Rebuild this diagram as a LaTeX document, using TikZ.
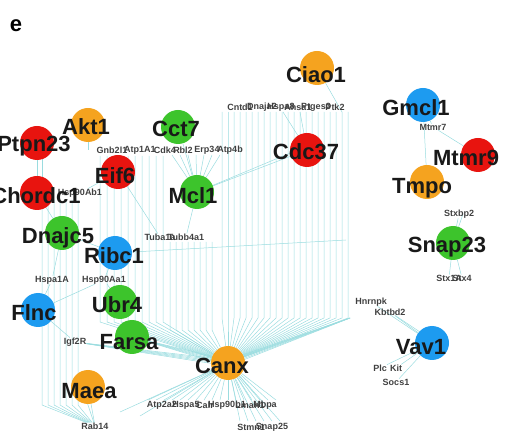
\documentclass[tikz,border=0pt]{standalone}
\usepackage{fontspec}
\setmainfont{Liberation Sans}
\usetikzlibrary{backgrounds}
\definecolor{cO}{HTML}{F5A31F}
\definecolor{cR}{HTML}{E8140F}
\definecolor{cG}{HTML}{3DC42C}
\definecolor{cB}{HTML}{1D9BF0}
\definecolor{edgec}{HTML}{9ADCDF}
\tikzset{
 gene/.style={circle,fill=#1,minimum size=34pt,inner sep=0pt},
 big/.style={font=\fontsize{22}{22}\selectfont\bfseries,text=black!90,inner sep=0pt},
 small/.style={font=\fontsize{9}{9}\selectfont\bfseries,text=black!75,inner sep=0pt},
 edge/.style={draw=edgec,line width=0.5pt},
}
\begin{document}
\begin{tikzpicture}[x=1pt,y=-1pt]
\useasboundingbox (0,0) rectangle (514,435);
\node[font=\fontsize{22}{22}\selectfont\bfseries] (lbl) at (16,26) {e};
% genes
\node[gene=cO] (ciao1) at (317,68) {};
\node[gene=cR] (cdc37) at (307,150) {};
\node[gene=cG] (cct7) at (178,127) {};
\node[gene=cO] (akt1) at (88,125) {};
\node[gene=cR] (ptpn23) at (37,143) {};
\node[gene=cR] (eif6) at (118,172) {};
\node[gene=cR] (chordc1) at (37,193) {};
\node[gene=cG] (mcl1) at (197,192) {};
\node[gene=cG] (dnajc5) at (62,233) {};
\node[gene=cB] (ribc1) at (115,253) {};
\node[gene=cB] (flnc) at (38,310) {};
\node[gene=cG] (ubr4) at (120,302) {};
\node[gene=cG] (farsa) at (132,337) {};
\node[gene=cO] (maea) at (88,387) {};
\node[gene=cO] (canx) at (228,363) {};
\node[gene=cB] (gmcl1) at (423,105) {};
\node[gene=cR] (mtmr9) at (478,155) {};
\node[gene=cO] (tmpo) at (427,182) {};
\node[gene=cG] (snap23) at (453,243) {};
\node[gene=cB] (vav1) at (432,343) {};
% small labels
\node[small] (cnta) at (240,107) {Cntd1};
\node[small] (cntb) at (262,107) {Dnaja2};
\node[small] (cntc) at (281,107) {Hspa8};
\node[small] (cntd) at (298,107) {Ahsa1};
\node[small] (cnte) at (316,107) {Ptges3};
\node[small] (cntf) at (335,107) {Ptk2};
\node[small] (gnba) at (112,150) {Gnb2l1};
\node[small] (gnbb) at (140,150) {Atp1A1};
\node[small] (gnbc) at (165,150) {Cdk4};
\node[small] (gnbd) at (183,150) {Rbl2};
\node[small] (gnbe) at (207,150) {Erp34};
\node[small] (gnbf) at (230,150) {Atp4b};
\node[small] (hspc) at (80,193) {Hsp90Ab1};
\node[small] (tuba) at (160,237) {Tuba1a};
\node[small] (tubb) at (186,237) {Tubb4a1};
\node[small] (hspa) at (52,280) {Hspa1A};
\node[small] (hsp90) at (104,280) {Hsp90Aa1};
\node[small] (igf2r) at (75,342) {Igf2R};
\node[small] (rab14) at (95,426) {Rab14};
\node[small] (bota) at (162,405) {Atp2a2};
\node[small] (botb) at (186,405) {Hspa5};
\node[small] (botc) at (205,405) {Calr};
\node[small] (botd) at (227,405) {Hsp90b1};
\node[small] (bote) at (250,405) {Lman1};
\node[small] (botf) at (265,405) {Mbpa};
\node[small] (stmn) at (251,427) {Stmn1};
\node[small] (snap25) at (272,427) {Snap25};
\node[small] (mtmr7) at (433,127) {Mtmr7};
\node[small] (stxbp2) at (459,214) {Stxbp2};
\node[small] (stxa) at (449,278) {Stx1A};
\node[small] (stxb) at (462,278) {Stx4};
\node[small] (hnrnpk) at (371,302) {Hnrnpk};
\node[small] (kbtbd2) at (390,312) {Kbtbd2};
\node[small] (plc) at (380,368) {Plc};
\node[small] (kit) at (396,368) {Kit};
\node[small] (socs1) at (396,382) {Socs1};
% big labels
\node[big] (ciao1l) at (316,75) {Ciao1};
\node[big] (cdc37l) at (306,152) {Cdc37};
\node[big] (cct7l) at (176,129) {Cct7};
\node[big] (akt1l) at (86,127) {Akt1};
\node[big] (ptpn23l) at (34,146) {Ptpn23};
\node[big] (eif6l) at (115,176) {Eif6};
\node[big] (chordc1l) at (36,196) {Chordc1};
\node[big] (mcl1l) at (193,196) {Mcl1};
\node[big] (dnajc5l) at (58,238) {Dnajc5};
\node[big] (ribc1l) at (114,256) {Ribc1};
\node[big] (flncl) at (34,313) {Flnc};
\node[big] (ubr4l) at (117,305) {Ubr4};
\node[big] (farsal) at (129,342) {Farsa};
\node[big] (maeal) at (89,391) {Maea};
\node[big] (canxl) at (222,366) {Canx};
\node[big] (gmcl1l) at (416,108) {Gmcl1};
\node[big] (mtmr9l) at (466,158) {Mtmr9};
\node[big] (tmpol) at (422,188) {Tmpo};
\node[big] (snap23l) at (447,247) {Snap23};
\node[big] (vav1l) at (421,347) {Vav1};
% edges
\begin{scope}[on background layer]
\foreach \x in {222,228,...,348} \draw[edge] (\x,112) -- (\x,318) -- (canx);
\draw[edge] (ciao1) -- (342,112);
\draw[edge] (cdc37) -- (283,112);
\draw[edge] (cdc37) -- (300,112);
\draw[edge] (mcl1) -- (cdc37);
\draw[edge] (mcl1) -- ([yshift=4pt]cdc37.center);
\draw[edge] (ribc1) -- (346,240);
\foreach \x in {100,107,...,163} \draw[edge] (\x,156) -- (\x,322) -- (canx);
\foreach \x in {170,176,...,214} \draw[edge] (\x,242) -- (\x,330) -- (canx);
\foreach \x in {172,180,...,220} \draw[edge] (mcl1) -- (\x,155);
\draw[edge] (cct7) -- (mcl1);
\draw[edge] (akt1) -- (88,150);
\draw[edge] (eif6) -- (hspc);
\draw[edge] (eif6) -- (tuba);
\draw[edge] (mcl1) -- (tubb);
\draw[edge] (ptpn23) -- (chordc1);
\draw[edge] ([xshift=5pt]ptpn23.center) -- ([xshift=5pt]chordc1.center);
\draw[edge] (chordc1) -- (dnajc5);
\foreach \x in {42,48,...,78} \draw[edge] (\x,200) -- (\x,405) -- (rab14);
\draw[edge] (dnajc5) -- (hspa);
\draw[edge] (flnc) -- (hspa);
\draw[edge] (flnc) -- (hsp90);
\draw[edge] (ribc1) -- (hsp90);
\draw[edge] (ubr4) -- (hsp90);
\draw[edge] (dnajc5) -- (ribc1);
\draw[edge] (flnc) -- (igf2r);
\draw[edge] (maea) -- (rab14);
\draw[edge] ([xshift=-6pt]maea.center) -- (rab14);
\foreach \d in {-3,-1.5,0,1.5,3} {
  \draw[edge] ([yshift=\d pt]canx.center) -- (farsa);
  \draw[edge] ([yshift=\d pt]canx.center) -- (igf2r);
  \draw[edge] ([yshift=\d pt]canx.center) -- (350,318);
}
\foreach \x in {148,156,...,276} \draw[edge] (canx) -- (\x,400);
\foreach \x in {240,248,...,280} \draw[edge] (canx) -- (\x,421);
\draw[edge] (canx) -- (120,412);
\draw[edge] (canx) -- (140,416);
\draw[edge] (gmcl1) -- (tmpo);
\draw[edge] (gmcl1) -- (mtmr7);
\draw[edge] (mtmr7) -- (mtmr9);
\draw[edge] (stxbp2) -- (snap23);
\draw[edge] ([xshift=4pt]stxbp2.center) -- (snap23);
\draw[edge] (snap23) -- (stxa);
\draw[edge] (snap23) -- (stxb);
\draw[edge] (vav1) -- (hnrnpk);
\draw[edge] (vav1) -- (kbtbd2);
\draw[edge] ([yshift=3pt]vav1.center) -- (kbtbd2);
\draw[edge] (vav1) -- (plc);
\draw[edge] (vav1) -- (kit);
\draw[edge] (vav1) -- (socs1);
\end{scope}
\end{tikzpicture}
\end{document}
